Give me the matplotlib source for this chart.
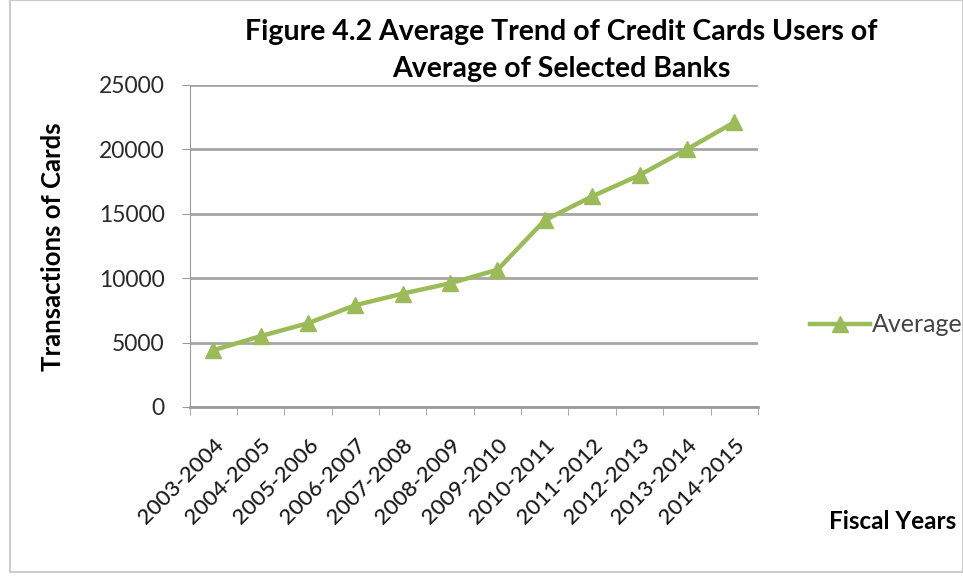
import matplotlib
matplotlib.use('Agg')
import matplotlib.pyplot as plt
from matplotlib.patches import Rectangle

plt.rcParams['font.family'] = ['Lato', 'DejaVu Sans']

## Données ##
years = ['2003-2004', '2004-2005', '2005-2006', '2006-2007', '2007-2008', '2008-2009',
         '2009-2010', '2010-2011', '2011-2012', '2012-2013', '2013-2014', '2014-2015']
average = [4400, 5500, 6500, 7900, 8800, 9600, 10650, 14500, 16350, 18000, 20000, 22100]
yticks = [0, 5000, 10000, 15000, 20000, 25000]

green = '#9BBB59'
grey = '#9a9a9a'

fig = plt.figure(figsize=(9.63, 5.78), dpi=100)
ax = fig.add_axes([0.197, 0.296, 0.59, 0.557])

x = list(range(len(years)))
ax.plot(x, average, color=green, lw=3.2, marker='^', ms=12, label='Average')

ax.set_xlim(-0.5, len(years) - 0.5)
ax.set_ylim(0, 25000)
ax.set_yticks(yticks)
ax.set_yticklabels([str(v) for v in yticks], fontsize=16.5, color='#2a2a2a')
ax.set_xticks(x)
ax.set_xticklabels(years, rotation=45, ha='right', rotation_mode='anchor', fontsize=16,
                   color='#1a1a1a', fontweight='medium')
ax.set_xticks([i - 0.5 for i in range(len(years) + 1)], minor=True)
ax.tick_params(axis='x', which='major', length=0, pad=20)
ax.tick_params(axis='x', which='minor', length=6, color=grey, direction='out')
ax.tick_params(axis='y', length=6, color=grey, pad=12)

ax.grid(axis='y', color='#a6a6a6', lw=2)
ax.set_axisbelow(True)
for s in ['top', 'right']:
    ax.spines[s].set_visible(False)
ax.spines['left'].set_color(grey)
ax.spines['bottom'].set_color(grey)
ax.spines['bottom'].set_linewidth(2)

fig.text(0.055, 0.574, 'Transactions of Cards', fontsize=18.5, fontweight='bold',
         rotation=90, ha='center', va='center')
fig.text(0.927, 0.097, 'Fiscal Years', fontsize=17.5, fontweight='bold', ha='center', va='center')
fig.text(0.583, 0.913, 'Figure 4.2 Average Trend of Credit Cards Users of\nAverage of Selected Banks',
         fontsize=20.5, fontweight='bold', ha='center', va='center', linespacing=1.5)

ax.legend(loc='center left', bbox_to_anchor=(1.053, 0.255), frameon=False, fontsize=18,
          handlelength=2.4, handletextpad=0.05, labelcolor='#444444')

fig.patches.append(Rectangle((0.01, 0.01), 0.99, 0.99, transform=fig.transFigure,
                             fill=False, edgecolor='#cccccc', lw=1.5))

fig.savefig('out.png', dpi=100)
